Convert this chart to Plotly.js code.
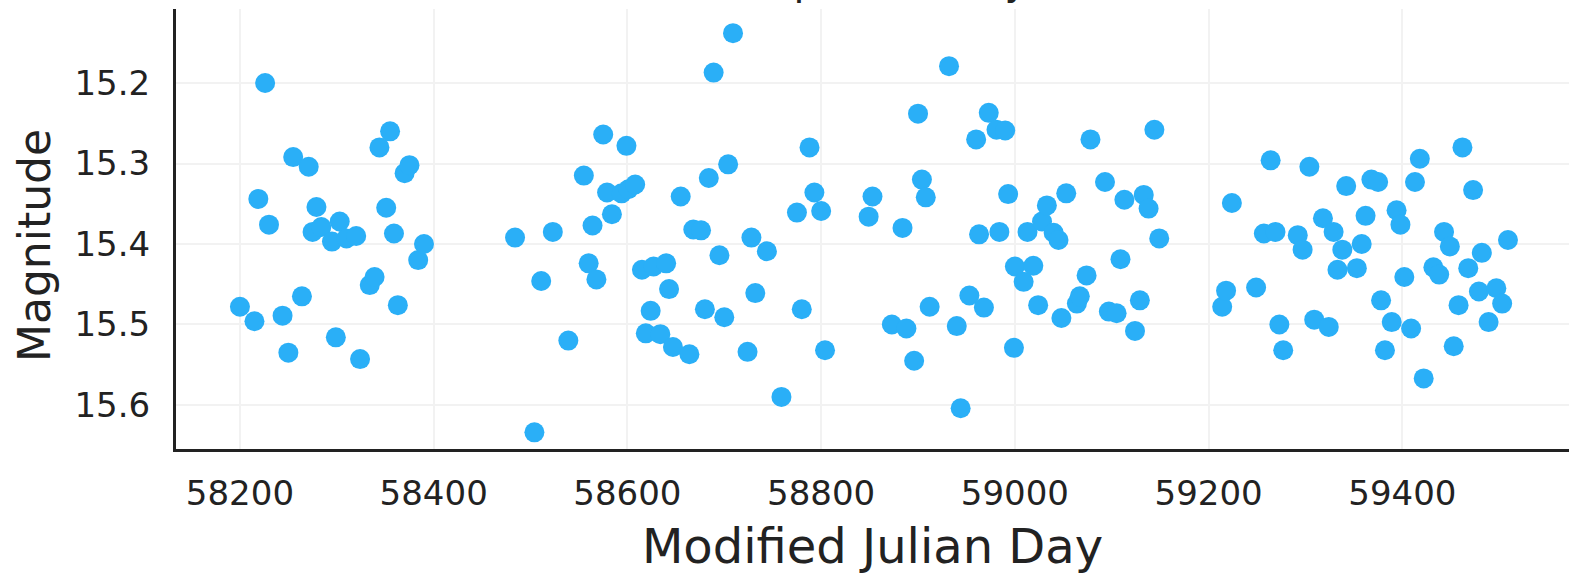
<!DOCTYPE html>
<html>
<head>
<meta charset="utf-8">
<script src="https://cdn.plot.ly/plotly-3.0.1.min.js"></script>
<style>html,body{margin:0;padding:0;background:#fff;}#chart{width:1569px;height:574px;}</style>
</head>
<body>
<div id="chart"></div>
<script>
// Observation dates (Modified Julian Day)
const mjd = [
  58200, 58215, 58219, 58226, 58230, 58244, 58250, 58255, 58264, 58271,
  58275, 58279, 58284, 58295, 58299, 58303, 58310, 58320, 58324, 58334,
  58339, 58344, 58351, 58355, 58359, 58363, 58370, 58375, 58384, 58390,
  58484, 58504, 58511, 58523, 58539, 58555, 58560, 58564, 58568, 58575,
  58579, 58584, 58594, 58599, 58601, 58608, 58615, 58619, 58624, 58627,
  58634, 58640, 58643, 58647, 58655, 58664, 58668, 58676, 58680, 58684,
  58689, 58695, 58700, 58704, 58709, 58724, 58728, 58732, 58744,
  58759, 58775, 58780, 58788, 58793, 58800, 58804, 58849, 58853, 58873,
  58884, 58888, 58896, 58900, 58904, 58908, 58912, 58932, 58940, 58944,
  58953, 58960, 58963, 58968, 58973, 58981, 58984, 58990, 58993, 58999,
  59000, 59009, 59013, 59019, 59024, 59028, 59033, 59040, 59045, 59048,
  59053, 59064, 59067, 59074, 59078, 59093, 59097, 59105, 59109, 59113,
  59124, 59129, 59133, 59138, 59144, 59149, 59214, 59218, 59224, 59249,
  59257, 59264, 59269, 59273, 59277,
  59292, 59297, 59304, 59309, 59318, 59324, 59329, 59333, 59338, 59342,
  59353, 59358, 59362, 59368, 59375, 59378, 59382, 59389, 59394, 59398,
  59402, 59409, 59413, 59418, 59422, 59432, 59438, 59443, 59449, 59453,
  59458, 59462, 59468, 59473, 59479, 59482, 59489, 59497, 59503, 59509
];
// Magnitudes
const magnitude = [
  15.478, 15.496, 15.344, 15.200, 15.376, 15.489, 15.535, 15.292, 15.465, 15.304,
  15.385, 15.354, 15.379, 15.397, 15.516, 15.372, 15.393, 15.390, 15.543, 15.451,
  15.441, 15.280, 15.355, 15.260, 15.387, 15.476, 15.312, 15.302, 15.420, 15.400,
  15.392, 15.634, 15.446, 15.385, 15.520, 15.315, 15.424, 15.377, 15.444, 15.264,
  15.336, 15.363, 15.337, 15.278, 15.332, 15.326, 15.432, 15.511, 15.483, 15.428,
  15.512, 15.424, 15.456, 15.528, 15.341, 15.537, 15.382, 15.383, 15.481, 15.318,
  15.187, 15.414, 15.491, 15.301, 15.138, 15.534, 15.392, 15.461, 15.409,
  15.590, 15.361, 15.481, 15.280, 15.336, 15.359, 15.532, 15.366, 15.341, 15.500,
  15.380, 15.505, 15.545, 15.238, 15.320, 15.342, 15.478, 15.179, 15.502, 15.604,
  15.464, 15.270, 15.388, 15.479, 15.237, 15.258, 15.385, 15.259, 15.338, 15.529,
  15.428, 15.447, 15.385, 15.427, 15.476, 15.372, 15.352, 15.386, 15.395, 15.492,
  15.337, 15.474, 15.465, 15.439, 15.270, 15.323, 15.484, 15.486, 15.419, 15.345,
  15.508, 15.470, 15.339, 15.356, 15.258, 15.393, 15.478, 15.458, 15.349, 15.454,
  15.387, 15.296, 15.385, 15.500, 15.532,
  15.389, 15.407, 15.304, 15.494, 15.368, 15.503, 15.385, 15.432, 15.407, 15.328,
  15.430, 15.400, 15.365, 15.320, 15.323, 15.470, 15.532, 15.497, 15.358, 15.376,
  15.441, 15.505, 15.323, 15.294, 15.567, 15.429, 15.438, 15.385, 15.403, 15.527,
  15.476, 15.280, 15.430, 15.333, 15.459, 15.411, 15.497, 15.455, 15.474, 15.395
];
const xTickVals = [58200, 58400, 58600, 58800, 59000, 59200, 59400];
const xTickText = ["58200", "58400", "58600", "58800", "59000", "59200", "59400"];
const yTickVals = [15.2, 15.3, 15.4, 15.5, 15.6];
const yTickText = ["15.2", "15.3", "15.4", "15.5", "15.6"];
const titleText = "Time-series photometry";
const xTitle = "Modified Julian Day";
const yTitle = "Magnitude";

const font = "DejaVu Sans, sans-serif";
const trace = {
  x: mjd, y: magnitude, type: "scatter", mode: "markers",
  marker: {size: 20, color: "#2aaff7", line: {width: 0}},
  hoverinfo: "x+y", showlegend: false
};
const layout = {
  width: 1569, height: 574,
  paper_bgcolor: "#ffffff", plot_bgcolor: "#ffffff",
  margin: {l: 176, r: 0, t: 9, b: 125},
  font: {family: font, color: "#222222"},
  xaxis: {
    range: [58134, 59572], tickvals: xTickVals, ticktext: xTickText,
    showgrid: true, gridcolor: "#f2f2f2", gridwidth: 2,
    zeroline: false, showline: true, linecolor: "#222222", linewidth: 3,
    ticks: "", ticklabelstandoff: 12, tickfont: {family: font, size: 34, color: "#222222"},
    title: {text: xTitle, font: {family: font, size: 48, color: "#222222"}, standoff: 22},
    automargin: false, mirror: false
  },
  yaxis: {
    range: [15.6547, 15.108], tickvals: yTickVals, ticktext: yTickText,
    showgrid: true, gridcolor: "#f2f2f2", gridwidth: 2,
    zeroline: false, showline: true, linecolor: "#222222", linewidth: 3,
    ticks: "", ticklabelstandoff: 16, tickfont: {family: font, size: 34, color: "#222222"},
    automargin: false, mirror: false
  },
  annotations: [
    {text: titleText, xref: "paper", yref: "paper", x: (1030 - 176) / 1393, y: 1,
     xanchor: "right", yanchor: "bottom", yshift: 4, showarrow: false,
     font: {family: font, size: 40, color: "#222222"}},
    {text: yTitle, xref: "paper", yref: "paper", x: 0, xshift: -141,
     y: (449 - 246) / 440, xanchor: "center", yanchor: "middle", textangle: -90,
     showarrow: false, font: {family: font, size: 44, color: "#222222"}}
  ]
};
Plotly.newPlot("chart", [trace], layout, {displayModeBar: false, staticPlot: true});
</script>
</body>
</html>
